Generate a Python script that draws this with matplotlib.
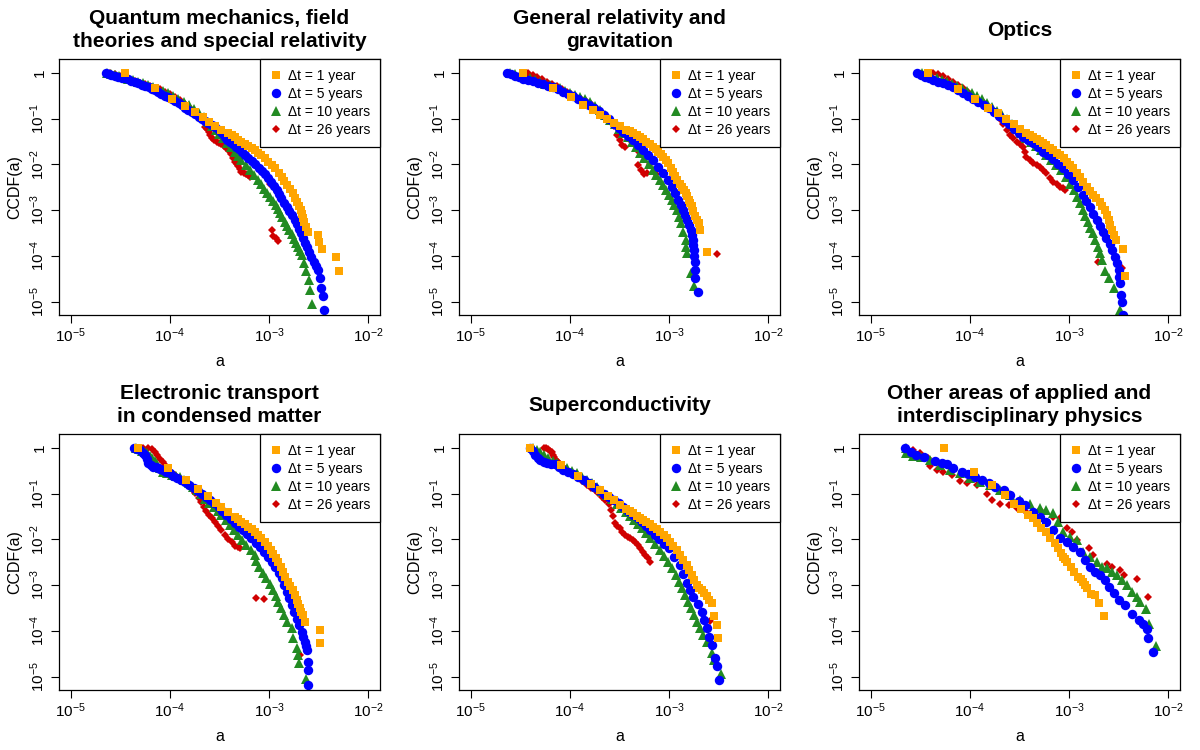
import numpy as np
import matplotlib.pyplot as plt
from matplotlib.ticker import NullLocator

plt.rcParams['font.family'] = ['Liberation Sans', 'DejaVu Sans']
plt.rcParams['mathtext.fontset'] = 'custom'
plt.rcParams['mathtext.rm'] = 'Liberation Sans'
plt.rcParams['mathtext.it'] = 'Liberation Sans:italic'

# points are (log10 a, log10 CCDF)

# Quantum mechanics, field theories and special relativity
qm_1yr = [(-4.45, 0), (-4.15, -0.34), (-3.98, -0.57), (-3.85, -0.73), (-3.75, -0.86), (-3.67, -0.96),
          (-3.61, -1.08), (-3.55, -1.16), (-3.48, -1.25), (-3.41, -1.32), (-3.375, -1.365), (-3.34, -1.41),
          (-3.31, -1.46), (-3.28, -1.51), (-3.245, -1.55), (-3.21, -1.59), (-3.175, -1.64), (-3.14, -1.69),
          (-3.11, -1.745), (-3.08, -1.80), (-3.045, -1.87), (-3.01, -1.94), (-2.975, -2.015), (-2.94, -2.09),
          (-2.905, -2.18), (-2.87, -2.27), (-2.845, -2.36), (-2.82, -2.45), (-2.79, -2.54), (-2.76, -2.63),
          (-2.74, -2.725), (-2.72, -2.82), (-2.70, -2.91), (-2.68, -3.00), (-2.67, -3.09), (-2.66, -3.18),
          (-2.645, -3.27), (-2.63, -3.36), (-2.61, -3.47), (-2.51, -3.54), (-2.50, -3.69), (-2.47, -3.84),
          (-2.33, -4.02), (-2.30, -4.32)]
qm_5yr = [(-4.64, 0), (-4.615, -0.025), (-4.59, -0.05), (-4.555, -0.07), (-4.52, -0.09), (-4.485, -0.105),
          (-4.45, -0.12), (-4.42, -0.145), (-4.39, -0.17), (-4.355, -0.20), (-4.32, -0.23), (-4.285, -0.26),
          (-4.25, -0.29), (-4.215, -0.32), (-4.18, -0.35), (-4.15, -0.385), (-4.12, -0.42), (-4.085, -0.46),
          (-4.05, -0.50), (-4.015, -0.54), (-3.98, -0.58), (-3.945, -0.625), (-3.91, -0.67), (-3.88, -0.715),
          (-3.85, -0.76), (-3.815, -0.81), (-3.78, -0.86), (-3.745, -0.91), (-3.71, -0.96), (-3.68, -1.005),
          (-3.65, -1.05), (-3.615, -1.095), (-3.58, -1.14), (-3.545, -1.19), (-3.51, -1.24), (-3.48, -1.29),
          (-3.46, -1.34), (-3.44, -1.40), (-3.42, -1.46), (-3.39, -1.51), (-3.36, -1.56), (-3.33, -1.615),
          (-3.30, -1.67), (-3.275, -1.735), (-3.245, -1.80), (-3.21, -1.865), (-3.175, -1.93), (-3.14, -2.00),
          (-3.105, -2.07), (-3.075, -2.14), (-3.045, -2.21), (-3.015, -2.295), (-2.985, -2.38), (-2.955, -2.47),
          (-2.925, -2.56), (-2.90, -2.65), (-2.875, -2.74), (-2.85, -2.835), (-2.82, -2.93), (-2.795, -3.02),
          (-2.77, -3.11), (-2.74, -3.205), (-2.72, -3.30), (-2.70, -3.405), (-2.68, -3.51), (-2.66, -3.61),
          (-2.64, -3.71), (-2.62, -3.81), (-2.60, -3.91), (-2.575, -4.02), (-2.55, -4.13), (-2.53, -4.22),
          (-2.51, -4.31), (-2.49, -4.49), (-2.48, -4.71), (-2.46, -4.88), (-2.45, -5.18)]
qm_10yr = [(-4.63, 0), (-4.59, -0.02), (-4.55, -0.04), (-4.51, -0.07), (-4.47, -0.10), (-4.42, -0.13),
           (-4.37, -0.16), (-4.32, -0.195), (-4.27, -0.23), (-4.22, -0.27), (-4.17, -0.31), (-4.12, -0.35),
           (-4.07, -0.39), (-4.02, -0.445), (-3.97, -0.50), (-3.915, -0.565), (-3.86, -0.63), (-3.81, -0.715),
           (-3.76, -0.80), (-3.71, -0.885), (-3.66, -0.97), (-3.62, -1.065), (-3.58, -1.16), (-3.54, -1.25),
           (-3.50, -1.34), (-3.46, -1.435), (-3.42, -1.53), (-3.38, -1.625), (-3.34, -1.72), (-3.31, -1.815),
           (-3.28, -1.91), (-3.235, -2.02), (-3.19, -2.13), (-3.15, -2.235), (-3.11, -2.34), (-3.08, -2.435),
           (-3.05, -2.53), (-3.02, -2.62), (-2.995, -2.71), (-2.965, -2.80), (-2.935, -2.89), (-2.91, -2.98),
           (-2.89, -3.07), (-2.865, -3.16), (-2.84, -3.25), (-2.82, -3.345), (-2.80, -3.44), (-2.77, -3.53),
           (-2.75, -3.62), (-2.73, -3.71), (-2.71, -3.80), (-2.69, -3.89), (-2.67, -3.98), (-2.65, -4.16),
           (-2.63, -4.34), (-2.60, -4.53), (-2.59, -4.75), (-2.57, -5.05)]
qm_26yr = [(-4.60, 0), (-4.55, -0.035), (-4.50, -0.07), (-4.45, -0.11), (-4.40, -0.15), (-4.35, -0.185),
           (-4.30, -0.22), (-4.25, -0.255), (-4.20, -0.29), (-4.15, -0.325), (-4.10, -0.36), (-4.05, -0.415),
           (-4.00, -0.47), (-3.95, -0.535), (-3.90, -0.60), (-3.85, -0.68), (-3.80, -0.76), (-3.75, -0.855),
           (-3.70, -0.95), (-3.65, -1.18), (-3.63, -1.235), (-3.61, -1.29), (-3.595, -1.36), (-3.58, -1.43),
           (-3.555, -1.47), (-3.53, -1.51), (-3.505, -1.535), (-3.48, -1.56), (-3.455, -1.605), (-3.43, -1.65),
           (-3.405, -1.715), (-3.38, -1.78), (-3.36, -1.86), (-3.34, -1.94), (-3.325, -1.99), (-3.31, -2.04),
           (-3.295, -2.10), (-3.28, -2.16), (-3.255, -2.185), (-3.23, -2.21), (-3.21, -2.24), (-3.19, -2.27),
           (-2.99, -2.44), (-2.97, -3.44), (-2.96, -3.57), (-2.93, -3.60), (-2.91, -3.67)]

# General relativity and gravitation
gr_1yr = [(-4.47, 0), (-4.17, -0.34), (-3.99, -0.54), (-3.87, -0.70), (-3.77, -0.81), (-3.70, -0.92),
          (-3.63, -1.00), (-3.56, -1.09), (-3.50, -1.16), (-3.43, -1.24), (-3.395, -1.275), (-3.36, -1.31),
          (-3.325, -1.355), (-3.29, -1.40), (-3.26, -1.455), (-3.23, -1.51), (-3.195, -1.565), (-3.16, -1.62),
          (-3.135, -1.67), (-3.11, -1.72), (-3.085, -1.775), (-3.06, -1.83), (-3.035, -1.905), (-3.01, -1.98),
          (-2.985, -2.07), (-2.96, -2.16), (-2.94, -2.25), (-2.92, -2.34), (-2.895, -2.42), (-2.87, -2.50),
          (-2.85, -2.565), (-2.83, -2.63), (-2.815, -2.70), (-2.80, -2.77), (-2.785, -2.84), (-2.77, -2.91),
          (-2.755, -3.02), (-2.74, -3.13), (-2.72, -3.21), (-2.70, -3.29), (-2.69, -3.44), (-2.62, -3.91)]
gr_5yr = [(-4.63, 0), (-4.59, -0.035), (-4.55, -0.07), (-4.51, -0.10), (-4.47, -0.13), (-4.42, -0.155),
          (-4.37, -0.18), (-4.32, -0.215), (-4.27, -0.25), (-4.22, -0.285), (-4.17, -0.32), (-4.12, -0.365),
          (-4.07, -0.41), (-4.02, -0.46), (-3.97, -0.51), (-3.915, -0.57), (-3.86, -0.63), (-3.81, -0.695),
          (-3.76, -0.76), (-3.71, -0.84), (-3.66, -0.92), (-3.61, -1.015), (-3.56, -1.11), (-3.51, -1.20),
          (-3.46, -1.29), (-3.41, -1.38), (-3.36, -1.47), (-3.31, -1.58), (-3.26, -1.69), (-3.21, -1.80),
          (-3.16, -1.91), (-3.11, -2.055), (-3.06, -2.20), (-3.015, -2.345), (-2.97, -2.49), (-2.94, -2.635),
          (-2.91, -2.78), (-2.885, -2.89), (-2.86, -3.00), (-2.84, -3.11), (-2.82, -3.22), (-2.80, -3.33),
          (-2.78, -3.44), (-2.77, -3.545), (-2.76, -3.65), (-2.755, -3.76), (-2.75, -3.87), (-2.745, -4.00),
          (-2.74, -4.13), (-2.74, -4.31), (-2.74, -4.49), (-2.71, -4.78)]
gr_10yr = [(-4.60, 0), (-4.55, -0.025), (-4.50, -0.05), (-4.45, -0.085), (-4.40, -0.12), (-4.35, -0.16),
           (-4.30, -0.20), (-4.25, -0.235), (-4.20, -0.27), (-4.15, -0.305), (-4.10, -0.34), (-4.05, -0.39),
           (-4.00, -0.44), (-3.95, -0.48), (-3.90, -0.52), (-3.85, -0.575), (-3.80, -0.63), (-3.75, -0.725),
           (-3.70, -0.82), (-3.65, -0.925), (-3.60, -1.03), (-3.55, -1.125), (-3.51, -1.22), (-3.46, -1.31),
           (-3.415, -1.40), (-3.375, -1.51), (-3.33, -1.62), (-3.29, -1.745), (-3.25, -1.87), (-3.205, -2.00),
           (-3.16, -2.13), (-3.13, -2.235), (-3.095, -2.34), (-3.065, -2.45), (-3.035, -2.56), (-3.005, -2.67),
           (-2.975, -2.78), (-2.95, -2.89), (-2.925, -3.00), (-2.90, -3.145), (-2.88, -3.29), (-2.86, -3.47),
           (-2.83, -3.65), (-2.825, -3.80), (-2.82, -3.94), (-2.78, -4.37), (-2.75, -4.66)]
gr_26yr = [(-4.42, 0), (-4.375, -0.045), (-4.33, -0.09), (-4.28, -0.145), (-4.23, -0.20), (-4.18, -0.25),
           (-4.13, -0.30), (-4.08, -0.35), (-4.03, -0.42), (-3.99, -0.47), (-3.95, -0.51), (-3.90, -0.55),
           (-3.85, -0.60), (-3.80, -0.66), (-3.75, -0.74), (-3.70, -0.84), (-3.65, -0.94), (-3.60, -1.05),
           (-3.56, -1.17), (-3.53, -1.36), (-3.50, -1.47), (-3.47, -1.58), (-3.44, -1.62), (-3.40, -1.45),
           (-3.35, -1.55), (-3.30, -1.72), (-3.31, -2.02), (-3.28, -2.12), (-3.25, -2.22), (-3.22, -2.20),
           (-3.19, -2.00), (-3.13, -2.22), (-2.82, -2.71), (-2.52, -3.96)]

# Optics
op_1yr = [(-4.42, 0), (-4.12, -0.36), (-3.95, -0.58), (-3.82, -0.76), (-3.72, -0.89), (-3.64, -1.01),
          (-3.56, -1.12), (-3.50, -1.22), (-3.43, -1.31), (-3.395, -1.355), (-3.36, -1.40), (-3.325, -1.44),
          (-3.29, -1.48), (-3.26, -1.53), (-3.23, -1.58), (-3.195, -1.635), (-3.16, -1.69), (-3.125, -1.745),
          (-3.09, -1.80), (-3.055, -1.87), (-3.02, -1.94), (-2.99, -2.015), (-2.96, -2.09), (-2.925, -2.18),
          (-2.89, -2.27), (-2.855, -2.38), (-2.82, -2.49), (-2.79, -2.58), (-2.76, -2.67), (-2.725, -2.745),
          (-2.69, -2.82), (-2.665, -2.91), (-2.64, -3.00), (-2.62, -3.11), (-2.60, -3.22), (-2.585, -3.33),
          (-2.57, -3.44), (-2.55, -3.545), (-2.53, -3.65), (-2.46, -3.84), (-2.44, -4.44)]
op_5yr = [(-4.53, 0), (-4.49, -0.045), (-4.45, -0.09), (-4.41, -0.125), (-4.37, -0.16), (-4.32, -0.195),
          (-4.27, -0.23), (-4.22, -0.275), (-4.17, -0.32), (-4.12, -0.385), (-4.07, -0.45), (-4.02, -0.515),
          (-3.97, -0.58), (-3.915, -0.645), (-3.86, -0.71), (-3.81, -0.78), (-3.76, -0.85), (-3.71, -0.94),
          (-3.66, -1.03), (-3.61, -1.125), (-3.56, -1.22), (-3.51, -1.31), (-3.46, -1.40), (-3.41, -1.47),
          (-3.36, -1.54), (-3.31, -1.63), (-3.26, -1.72), (-3.21, -1.805), (-3.16, -1.89), (-3.11, -1.99),
          (-3.06, -2.09), (-3.01, -2.215), (-2.96, -2.34), (-2.91, -2.505), (-2.86, -2.67), (-2.825, -2.80),
          (-2.79, -2.93), (-2.755, -3.075), (-2.72, -3.22), (-2.69, -3.345), (-2.66, -3.47), (-2.625, -3.60),
          (-2.59, -3.73), (-2.565, -3.875), (-2.54, -4.02), (-2.52, -4.165), (-2.50, -4.31), (-2.495, -4.455),
          (-2.49, -4.60), (-2.48, -4.85), (-2.47, -5.00), (-2.46, -5.29)]
op_10yr = [(-4.48, 0), (-4.435, -0.035), (-4.39, -0.07), (-4.335, -0.115), (-4.28, -0.16), (-4.23, -0.205),
           (-4.18, -0.25), (-4.13, -0.295), (-4.08, -0.34), (-4.03, -0.395), (-3.98, -0.45), (-3.93, -0.515),
           (-3.88, -0.58), (-3.83, -0.66), (-3.78, -0.74), (-3.73, -0.83), (-3.68, -0.92), (-3.63, -1.02),
           (-3.58, -1.12), (-3.53, -1.22), (-3.48, -1.32), (-3.43, -1.415), (-3.38, -1.51), (-3.33, -1.60),
           (-3.28, -1.69), (-3.23, -1.80), (-3.18, -1.91), (-3.13, -2.02), (-3.08, -2.13), (-3.035, -2.275),
           (-2.99, -2.42), (-2.955, -2.565), (-2.92, -2.71), (-2.89, -2.855), (-2.86, -3.00), (-2.835, -3.125),
           (-2.81, -3.25), (-2.785, -3.38), (-2.76, -3.51), (-2.735, -3.655), (-2.71, -3.80), (-2.69, -3.945),
           (-2.67, -4.09), (-2.64, -4.34), (-2.60, -4.49), (-2.55, -4.71), (-2.49, -5.18)]
op_26yr = [(-4.37, 0), (-4.32, -0.035), (-4.27, -0.07), (-4.22, -0.135), (-4.17, -0.20), (-4.12, -0.27),
           (-4.07, -0.34), (-4.02, -0.43), (-3.97, -0.52), (-3.915, -0.595), (-3.86, -0.67), (-3.82, -0.745),
           (-3.78, -0.82), (-3.74, -0.91), (-3.70, -1.00), (-3.665, -1.12), (-3.63, -1.24), (-3.60, -1.36),
           (-3.565, -1.435), (-3.53, -1.51), (-3.495, -1.565), (-3.46, -1.62), (-3.445, -1.725), (-3.43, -1.83),
           (-3.395, -1.905), (-3.36, -1.98), (-3.325, -2.015), (-3.29, -2.05), (-3.26, -2.125), (-3.23, -2.20),
           (-3.195, -2.29), (-3.16, -2.38), (-3.125, -2.435), (-3.09, -2.49), (-3.065, -2.525), (-3.04, -2.56),
           (-2.71, -4.14), (-2.47, -4.26)]

# Electronic transport in condensed matter
et_1yr = [(-4.32, 0), (-4.02, -0.44), (-3.84, -0.71), (-3.72, -0.90), (-3.62, -1.05), (-3.54, -1.20),
          (-3.48, -1.29), (-3.41, -1.40), (-3.34, -1.51), (-3.31, -1.565), (-3.28, -1.62), (-3.245, -1.67),
          (-3.21, -1.72), (-3.175, -1.775), (-3.14, -1.83), (-3.11, -1.905), (-3.08, -1.98), (-3.045, -2.06),
          (-3.01, -2.14), (-2.985, -2.225), (-2.96, -2.31), (-2.935, -2.40), (-2.91, -2.49), (-2.885, -2.60),
          (-2.86, -2.71), (-2.835, -2.82), (-2.81, -2.93), (-2.785, -3.02), (-2.76, -3.11), (-2.74, -3.22),
          (-2.72, -3.33), (-2.705, -3.42), (-2.69, -3.51), (-2.675, -3.58), (-2.66, -3.65), (-2.64, -3.80),
          (-2.49, -3.98), (-2.49, -4.27)]
et_5yr = [(-4.36, 0), (-4.33, -0.025), (-4.30, -0.05), (-4.275, -0.105), (-4.25, -0.16), (-4.235, -0.25),
          (-4.22, -0.34), (-4.195, -0.375), (-4.17, -0.41), (-4.145, -0.43), (-4.12, -0.45), (-4.095, -0.47),
          (-4.07, -0.49), (-4.035, -0.525), (-4.00, -0.56), (-3.965, -0.61), (-3.93, -0.66), (-3.89, -0.70),
          (-3.85, -0.74), (-3.805, -0.805), (-3.76, -0.87), (-3.72, -0.935), (-3.68, -1.00), (-3.64, -1.07),
          (-3.60, -1.14), (-3.555, -1.215), (-3.51, -1.29), (-3.47, -1.38), (-3.43, -1.47), (-3.385, -1.56),
          (-3.34, -1.65), (-3.30, -1.725), (-3.26, -1.80), (-3.22, -1.89), (-3.18, -1.98), (-3.135, -2.07),
          (-3.09, -2.16), (-3.05, -2.27), (-3.01, -2.38), (-2.975, -2.49), (-2.94, -2.60), (-2.905, -2.725),
          (-2.87, -2.85), (-2.845, -2.995), (-2.82, -3.14), (-2.795, -3.29), (-2.77, -3.44), (-2.745, -3.585),
          (-2.72, -3.73), (-2.695, -3.875), (-2.67, -4.02), (-2.655, -4.13), (-2.64, -4.24), (-2.63, -4.33),
          (-2.62, -4.42), (-2.61, -4.67), (-2.61, -4.85), (-2.61, -5.17)]
et_10yr = [(-4.34, 0), (-4.31, -0.035), (-4.28, -0.07), (-4.255, -0.095), (-4.23, -0.12), (-4.205, -0.175),
           (-4.18, -0.23), (-4.155, -0.295), (-4.13, -0.36), (-4.10, -0.44), (-4.07, -0.52), (-4.025, -0.56),
           (-3.98, -0.60), (-3.94, -0.615), (-3.90, -0.63), (-3.855, -0.705), (-3.81, -0.78), (-3.77, -0.85),
           (-3.73, -0.92), (-3.69, -1.015), (-3.65, -1.11), (-3.605, -1.20), (-3.56, -1.29), (-3.52, -1.38),
           (-3.48, -1.47), (-3.435, -1.58), (-3.39, -1.69), (-3.35, -1.80), (-3.31, -1.91), (-3.27, -2.02),
           (-3.23, -2.13), (-3.185, -2.235), (-3.14, -2.34), (-3.13, -2.47), (-3.10, -2.60), (-3.065, -2.725),
           (-3.03, -2.85), (-2.995, -2.98), (-2.96, -3.11), (-2.935, -3.235), (-2.91, -3.36), (-2.88, -3.505),
           (-2.85, -3.65), (-2.82, -3.795), (-2.77, -3.94), (-2.76, -4.16), (-2.72, -4.37), (-2.71, -4.53),
           (-2.70, -4.71), (-2.63, -5.04)]
et_26yr = [(-4.27, 0), (-4.225, -0.015), (-4.18, -0.03), (-4.155, -0.095), (-4.13, -0.16), (-4.10, -0.235),
           (-4.07, -0.31), (-4.045, -0.38), (-4.02, -0.45), (-3.985, -0.525), (-3.95, -0.60), (-3.905, -0.67),
           (-3.86, -0.74), (-3.82, -0.82), (-3.78, -0.90), (-3.745, -0.995), (-3.71, -1.09), (-3.685, -1.19),
           (-3.66, -1.29), (-3.635, -1.375), (-3.61, -1.46), (-3.58, -1.54), (-3.55, -1.62), (-3.515, -1.71),
           (-3.48, -1.80), (-3.445, -1.895), (-3.41, -1.99), (-3.375, -2.065), (-3.34, -2.14), (-3.315, -2.17),
           (-3.29, -2.20), (-3.13, -3.28), (-3.05, -3.31), (-2.69, -4.53)]

# Superconductivity
sc_1yr = [(-4.40, 0), (-4.09, -0.38), (-3.92, -0.61), (-3.79, -0.80), (-3.70, -0.93), (-3.62, -1.05),
          (-3.56, -1.14), (-3.50, -1.25), (-3.43, -1.34), (-3.395, -1.385), (-3.36, -1.43), (-3.325, -1.48),
          (-3.29, -1.53), (-3.26, -1.575), (-3.23, -1.62), (-3.195, -1.67), (-3.16, -1.72), (-3.125, -1.785),
          (-3.09, -1.85), (-3.055, -1.915), (-3.02, -1.98), (-2.99, -2.06), (-2.96, -2.14), (-2.925, -2.24),
          (-2.89, -2.34), (-2.855, -2.45), (-2.82, -2.56), (-2.795, -2.67), (-2.77, -2.78), (-2.745, -2.89),
          (-2.72, -3.00), (-2.695, -3.055), (-2.67, -3.11), (-2.645, -3.17), (-2.62, -3.23), (-2.595, -3.315),
          (-2.57, -3.40), (-2.55, -3.67), (-2.52, -3.86), (-2.51, -4.16)]
sc_5yr = [(-4.40, 0), (-4.375, -0.08), (-4.35, -0.16), (-4.325, -0.215), (-4.30, -0.27), (-4.265, -0.305),
          (-4.23, -0.34), (-4.19, -0.35), (-4.15, -0.36), (-4.11, -0.425), (-4.07, -0.49), (-4.02, -0.535),
          (-3.97, -0.58), (-3.915, -0.645), (-3.86, -0.71), (-3.81, -0.78), (-3.76, -0.85), (-3.71, -0.925),
          (-3.66, -1.00), (-3.61, -1.07), (-3.56, -1.14), (-3.51, -1.215), (-3.46, -1.29), (-3.41, -1.375),
          (-3.36, -1.46), (-3.31, -1.54), (-3.27, -1.62), (-3.23, -1.71), (-3.19, -1.80), (-3.145, -1.895),
          (-3.10, -1.99), (-3.05, -2.095), (-3.00, -2.20), (-2.95, -2.38), (-2.895, -2.56), (-2.855, -2.76),
          (-2.815, -2.96), (-2.785, -3.105), (-2.755, -3.25), (-2.705, -3.415), (-2.67, -3.58), (-2.645, -3.76),
          (-2.62, -3.94), (-2.595, -4.125), (-2.57, -4.31), (-2.54, -4.60), (-2.52, -4.76), (-2.50, -5.07)]
sc_10yr = [(-4.37, 0), (-4.335, -0.045), (-4.30, -0.09), (-4.26, -0.16), (-4.22, -0.23), (-4.175, -0.285),
           (-4.13, -0.34), (-4.08, -0.395), (-4.03, -0.45), (-3.98, -0.505), (-3.93, -0.56), (-3.88, -0.635),
           (-3.83, -0.71), (-3.78, -0.78), (-3.73, -0.85), (-3.68, -0.94), (-3.63, -1.03), (-3.58, -1.125),
           (-3.53, -1.22), (-3.48, -1.31), (-3.43, -1.40), (-3.39, -1.49), (-3.35, -1.58), (-3.31, -1.67),
           (-3.27, -1.76), (-3.23, -1.87), (-3.19, -1.98), (-3.14, -2.105), (-3.09, -2.23), (-3.05, -2.36),
           (-3.01, -2.49), (-2.97, -2.635), (-2.93, -2.78), (-2.90, -2.925), (-2.87, -3.07), (-2.84, -3.215),
           (-2.81, -3.36), (-2.78, -3.505), (-2.75, -3.65), (-2.72, -3.795), (-2.69, -3.94), (-2.66, -4.09),
           (-2.62, -4.24), (-2.57, -4.49), (-2.55, -4.64), (-2.48, -4.93)]
sc_26yr = [(-4.26, 0), (-4.24, -0.015), (-4.22, -0.03), (-4.20, -0.065), (-4.18, -0.10), (-4.17, -0.15),
           (-4.16, -0.20), (-4.14, -0.26), (-4.12, -0.32), (-4.095, -0.365), (-4.07, -0.41), (-4.035, -0.465),
           (-4.00, -0.52), (-3.96, -0.575), (-3.92, -0.63), (-3.875, -0.725), (-3.83, -0.82), (-3.79, -0.87),
           (-3.75, -0.92), (-3.715, -0.995), (-3.68, -1.07), (-3.645, -1.145), (-3.61, -1.22), (-3.59, -1.36),
           (-3.57, -1.50), (-3.55, -1.65), (-3.525, -1.705), (-3.50, -1.76), (-3.47, -1.835), (-3.44, -1.91),
           (-3.415, -1.945), (-3.39, -1.98), (-3.365, -2.015), (-3.34, -2.05), (-3.315, -2.125), (-3.29, -2.20),
           (-3.265, -2.27), (-3.24, -2.34), (-3.215, -2.415), (-3.19, -2.49), (-2.81, -2.67), (-2.59, -3.78)]

# Other areas of applied and interdisciplinary physics
ot_1yr = [(-4.26, 0), (-3.96, -0.52), (-3.78, -0.82), (-3.65, -1.03), (-3.56, -1.22), (-3.48, -1.34),
          (-3.41, -1.46), (-3.36, -1.54), (-3.32, -1.65), (-3.28, -1.75), (-3.23, -1.83), (-3.19, -1.98),
          (-3.14, -2.09), (-3.11, -2.20), (-3.085, -2.29), (-3.06, -2.38), (-3.04, -2.435), (-3.02, -2.49),
          (-2.98, -2.60), (-2.95, -2.71), (-2.91, -2.82), (-2.885, -2.875), (-2.86, -2.93), (-2.84, -3.00),
          (-2.82, -3.07), (-2.78, -3.20), (-2.74, -3.22), (-2.70, -3.38), (-2.65, -3.68)]
ot_5yr = [(-4.65, 0), (-4.59, -0.09), (-4.54, -0.15), (-4.46, -0.20), (-4.35, -0.29), (-4.28, -0.34),
          (-4.23, -0.36), (-4.17, -0.45), (-4.08, -0.52), (-4.02, -0.58), (-3.95, -0.63), (-3.88, -0.71),
          (-3.81, -0.76), (-3.75, -0.85), (-3.66, -0.92), (-3.60, -1.03), (-3.51, -1.16), (-3.44, -1.25),
          (-3.36, -1.40), (-3.29, -1.51), (-3.23, -1.62), (-3.16, -1.80), (-3.09, -1.98), (-3.02, -2.05),
          (-2.96, -2.16), (-2.89, -2.27), (-2.84, -2.45), (-2.79, -2.60), (-2.74, -2.71), (-2.69, -2.78),
          (-2.64, -2.89), (-2.60, -3.03), (-2.55, -3.18), (-2.50, -3.33), (-2.44, -3.44), (-2.37, -3.62),
          (-2.30, -3.76), (-2.25, -3.84), (-2.21, -3.96), (-2.20, -4.16), (-2.15, -4.45)]
ot_10yr = [(-4.64, 0), (-4.64, -0.12), (-4.57, -0.18), (-4.49, -0.20), (-4.40, -0.27), (-4.30, -0.38),
           (-4.20, -0.49), (-4.10, -0.56), (-4.00, -0.67), (-3.90, -0.74), (-3.80, -0.82), (-3.70, -0.92),
           (-3.60, -1.03), (-3.50, -1.14), (-3.39, -1.22), (-3.29, -1.32), (-3.23, -1.36), (-3.16, -1.43),
           (-3.11, -1.62), (-3.06, -1.83), (-2.99, -1.94), (-2.92, -2.02), (-2.86, -2.27), (-2.79, -2.38),
           (-2.72, -2.49), (-2.67, -2.60), (-2.62, -2.63), (-2.57, -2.71), (-2.52, -2.78), (-2.47, -2.89),
           (-2.42, -3.00), (-2.37, -3.14), (-2.32, -3.25), (-2.29, -3.36), (-2.22, -3.53), (-2.19, -3.84),
           (-2.12, -4.32)]
ot_26yr = [(-4.64, 0), (-4.57, -0.05), (-4.50, -0.12), (-4.42, -0.23), (-4.40, -0.39), (-4.33, -0.49),
           (-4.27, -0.52), (-4.18, -0.60), (-4.10, -0.73), (-4.03, -0.78), (-3.93, -0.82), (-3.83, -1.00),
           (-3.78, -1.14), (-3.70, -1.22), (-3.61, -1.24), (-3.53, -1.32), (-3.43, -1.40), (-3.29, -1.36),
           (-3.16, -1.51), (-3.09, -1.54), (-3.02, -1.75), (-2.97, -1.85), (-2.92, -2.02), (-2.80, -2.20),
           (-2.76, -2.34), (-2.62, -2.53), (-2.57, -2.60), (-2.49, -2.66), (-2.45, -2.78), (-2.32, -2.87),
           (-2.20, -3.25)]

titles = ['Quantum mechanics, field\ntheories and special relativity',
          'General relativity and\ngravitation',
          'Optics',
          'Electronic transport\nin condensed matter',
          'Superconductivity',
          'Other areas of applied and\ninterdisciplinary physics']
panels = [
    [qm_1yr, qm_5yr, qm_10yr, qm_26yr],
    [gr_1yr, gr_5yr, gr_10yr, gr_26yr],
    [op_1yr, op_5yr, op_10yr, op_26yr],
    [et_1yr, et_5yr, et_10yr, et_26yr],
    [sc_1yr, sc_5yr, sc_10yr, sc_26yr],
    [ot_1yr, ot_5yr, ot_10yr, ot_26yr],
]
labels = ['Δt = 1 year', 'Δt = 5 years', 'Δt = 10 years', 'Δt = 26 years']
colors = ['#FFA500', '#0000FF', '#228B22', '#D00000']
markers = ['s', 'o', '^', 'D']
msizes = [6.4, 6.8, 7.6, 3.9]

xticks = [1e-5, 1e-4, 1e-3, 1e-2]
xticklabels = ['$10^{-5}$', '$10^{-4}$', '$10^{-3}$', '$10^{-2}$']
yticks = [1, 1e-1, 1e-2, 1e-3, 1e-4, 1e-5]
yticklabels = ['1', '$10^{-1}$', '$10^{-2}$', '$10^{-3}$', '$10^{-4}$', '$10^{-5}$']

W, H = 1200, 750
fig = plt.figure(figsize=(12, 7.5), dpi=100)

for i, (title, series) in enumerate(zip(titles, panels)):
    r, c = divmod(i, 3)
    left = 59 + 400 * c
    top = 59 + 375 * r
    ax = fig.add_axes([left / W, 1 - (top + 256) / H, 321 / W, 256 / H])
    ax.set_xscale('log')
    ax.set_yscale('log')

    handles = [None] * 4
    for k in [3, 2, 1, 0]:
        pts = np.array(series[k])
        h, = ax.plot(np.power(10.0, pts[:, 0]), np.power(10.0, pts[:, 1]), linestyle='none',
                     marker=markers[k], ms=msizes[k], color=colors[k], mew=0)
        handles[k] = h

    ax.set_xlim(10 ** -5.118, 10 ** -1.882)
    ax.set_ylim(10 ** -5.29, 10 ** 0.30)
    ax.set_xticks(xticks)
    ax.set_xticklabels(xticklabels)
    ax.set_yticks(yticks)
    ax.set_yticklabels(yticklabels, rotation=90, va='center')
    ax.xaxis.set_minor_locator(NullLocator())
    ax.yaxis.set_minor_locator(NullLocator())
    ax.tick_params(direction='out', length=6, width=0.8, labelsize=11, pad=2.5)
    for sp in ax.spines.values():
        sp.set_linewidth(0.9)

    ax.set_xlabel('a', fontsize=11.5)
    ax.set_ylabel('CCDF(a)', fontsize=11.5)
    ax.xaxis.set_label_coords(0.5, -39 / 256)
    ax.yaxis.set_label_coords(-37 / 321, 0.5)

    ax.text(0.5, 1 + 29 / 256, title, transform=ax.transAxes, ha='center', va='center',
            fontsize=15, fontweight='bold', linespacing=1.3)

    leg = ax.legend(handles, labels, loc='upper right', borderaxespad=0, fontsize=10,
                    frameon=True, fancybox=False, framealpha=1, edgecolor='black',
                    labelspacing=0.3, handlelength=0.95, handletextpad=0.35, borderpad=0.7)
    leg.get_frame().set_linewidth(0.9)

fig.savefig('out.png', dpi=100)
